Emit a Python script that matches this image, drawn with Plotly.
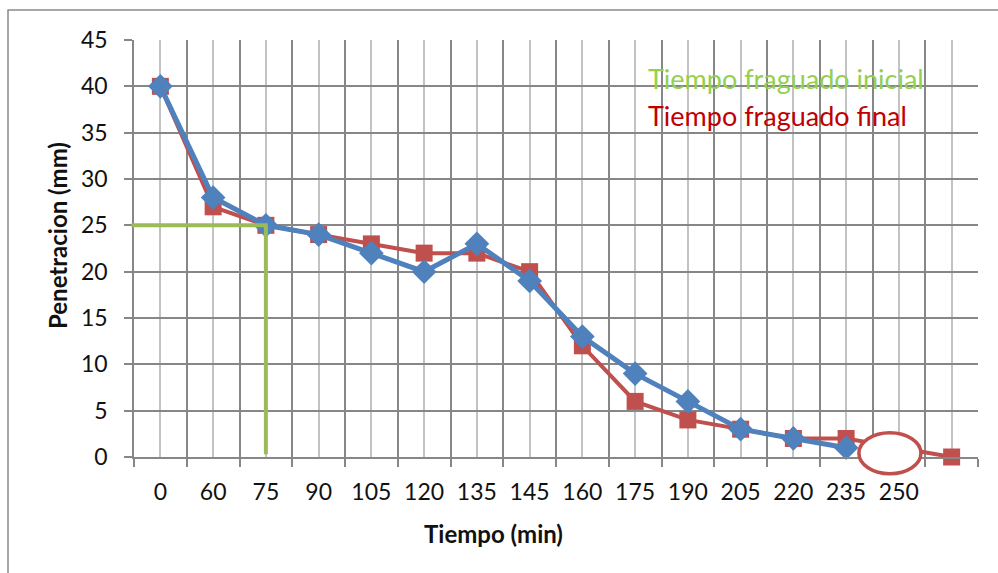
import plotly.graph_objects as go

# Tiempo (min) categories; the last slot has no label
tiempos = ["0", "60", "75", "90", "105", "120", "135", "145", "160",
           "175", "190", "205", "220", "235", "250", ""]

# Penetration readings (mm)
pen_final = [40, 27, 25, 24, 23, 22, 22, 20, 12, 6, 4, 3, 2, 2, 1, 0]
pen_inicial = [40, 28, 25, 24, 22, 20, 23, 19, 13, 9, 6, 3, 2, 1]

# Initial set reference point
inicial_tiempo = "75"
inicial_pen = 25
# Point circled on the final curve
circulo_tiempo = "250"

W, H = 998, 573
ML, MR, MT, MB = 134, 20, 40, 116
PW, PH = W - ML - MR, H - MT - MB
Y_MAX = 45
N = len(tiempos)

def px(i):
    return (i + 0.5) / N

def py(v):
    return v / Y_MAX

DARK = "#878787"
LIGHT = "#c3c3c3"
RED = "#C0504D"
BLUE = "#4F81BD"
GREEN = "#9BBB59"
FONT = "Lato"
TXT = "#111111"

fig = go.Figure()

fig.add_trace(go.Scatter(
    x=list(range(len(pen_final))), y=pen_final, mode="lines+markers",
    line=dict(color=RED, width=4),
    marker=dict(symbol="square", size=17, color=RED),
    cliponaxis=False, showlegend=False,
))
fig.add_trace(go.Scatter(
    x=list(range(len(pen_inicial))), y=pen_inicial, mode="lines+markers",
    line=dict(color=BLUE, width=5),
    marker=dict(symbol="diamond", size=19, color=BLUE),
    cliponaxis=False, showlegend=False,
))

i_ini = tiempos.index(inicial_tiempo)
i_circ = tiempos.index(circulo_tiempo)

shapes = [
    # outer chart frame
    dict(type="rect", xref="paper", yref="paper",
         x0=(8 - ML) / PW, x1=(1020 - ML) / PW,
         y0=(H - MB - 600) / PH, y1=(H - MB - 10) / PH,
         line=dict(color="#8a8a8a", width=1.5), fillcolor="rgba(0,0,0,0)",
         layer="below"),
    # initial set guide lines
    dict(type="line", xref="paper", yref="paper",
         x0=-0.003, x1=px(i_ini) + 0.002, y0=py(inicial_pen), y1=py(inicial_pen),
         line=dict(color=GREEN, width=4)),
    dict(type="line", xref="paper", yref="paper",
         x0=px(i_ini), x1=px(i_ini), y0=py(inicial_pen), y1=py(0.3),
         line=dict(color=GREEN, width=4)),
    # circled point
    dict(type="circle", xref="paper", yref="paper",
         x0=px(i_circ - 0.17) - 31 / PW, x1=px(i_circ - 0.17) + 31 / PW,
         y0=py(0.4) - 20.5 / PH, y1=py(0.4) + 20.5 / PH,
         line=dict(color=RED, width=3.5), fillcolor="white"),
]

annotations = [
    dict(text="Tiempo fraguado inicial", xref="paper", yref="paper",
         x=(646 - ML) / PW, y=(H - MB - 78) / PH,
         xanchor="left", yanchor="middle", showarrow=False,
         font=dict(family=FONT, size=27, color="#92D050")),
    dict(text="Tiempo fraguado final", xref="paper", yref="paper",
         x=(646 - ML) / PW, y=(H - MB - 115) / PH,
         xanchor="left", yanchor="middle", showarrow=False,
         font=dict(family=FONT, size=27, color="#C00000")),
    # axis titles
    dict(text="<b>Tiempo (min)</b>", xref="paper", yref="paper",
         x=(493 - ML) / PW, y=(H - MB - 533) / PH,
         xanchor="center", yanchor="middle", showarrow=False,
         font=dict(family=FONT, size=24, color=TXT)),
    dict(text="<b>Penetracion (mm)</b>", xref="paper", yref="paper",
         x=(58 - ML) / PW, y=(H - MB - 236) / PH, textangle=-90,
         xanchor="center", yanchor="middle", showarrow=False,
         font=dict(family=FONT, size=24, color=TXT)),
]

fig.update_layout(
    width=W, height=H,
    margin=dict(l=ML, r=MR, t=MT, b=MB),
    paper_bgcolor="white", plot_bgcolor="white",
    shapes=shapes, annotations=annotations,
    font=dict(family=FONT, size=23, color=TXT),
)

fig.update_xaxes(
    range=[-0.5, N - 0.5],
    tickmode="array", tickvals=list(range(N)), ticktext=tiempos,
    ticks="", ticklabelstandoff=14,
    showgrid=True, gridcolor=LIGHT, gridwidth=1.5,
    minor=dict(tick0=-0.5, dtick=1, showgrid=True, gridcolor=DARK, gridwidth=1.5,
               ticks="outside", ticklen=8, tickcolor=DARK, tickwidth=1.5),
    showline=True, linecolor=DARK, linewidth=1.5,
    zeroline=False, tickfont=dict(size=23, color=TXT),
)
fig.update_yaxes(
    range=[0, Y_MAX], tick0=0, dtick=5,
    ticks="outside", ticklen=8, tickcolor=DARK, tickwidth=1.5,
    ticklabelstandoff=12,
    showgrid=True, gridcolor=DARK, gridwidth=1.5,
    showline=True, linecolor=DARK, linewidth=1.5,
    zeroline=False, tickfont=dict(size=23, color=TXT),
)

fig.write_html("out.html")
